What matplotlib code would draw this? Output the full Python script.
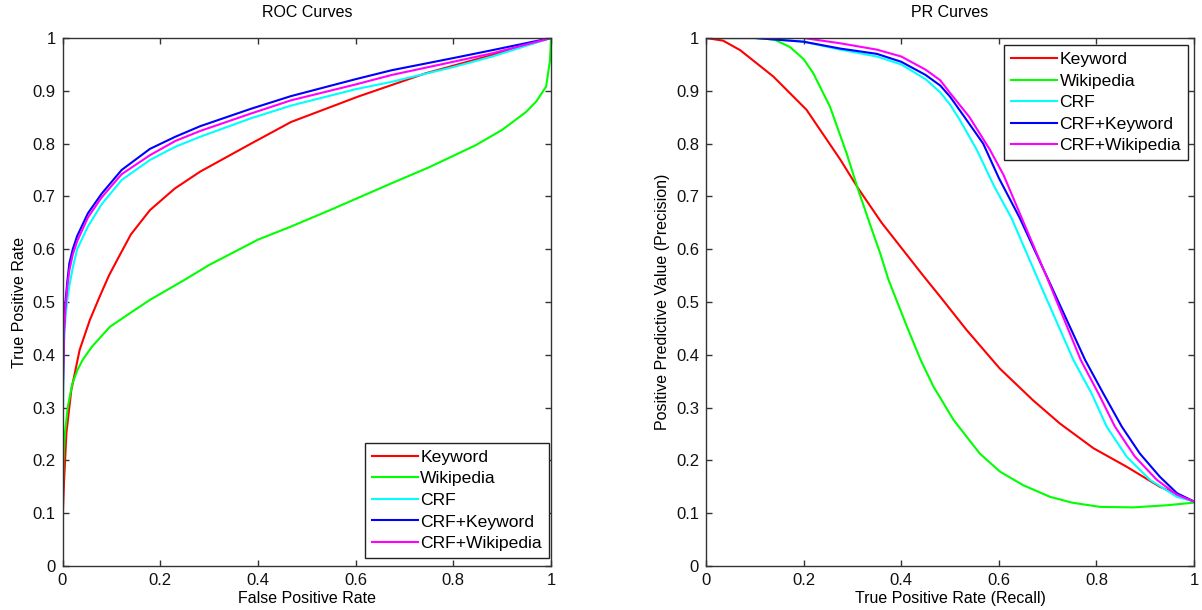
import numpy as np
import matplotlib
matplotlib.use("Agg")
import matplotlib.pyplot as plt

plt.rcParams['font.family'] = ['Liberation Sans', 'DejaVu Sans']

names = ["Keyword", "Wikipedia", "CRF", "CRF+Keyword", "CRF+Wikipedia"]
colors = ["#ff0000", "#00ff00", "#00ffff", "#0000ff", "#ff00ff"]

tick_vals = [0, 0.1, 0.2, 0.3, 0.4, 0.5, 0.6, 0.7, 0.8, 0.9, 1.0]
tick_txt = ["0", "0.1", "0.2", "0.3", "0.4", "0.5", "0.6", "0.7", "0.8", "0.9", "1"]
xtick_vals = [0, 0.2, 0.4, 0.6, 0.8, 1.0]
xtick_txt = ["0", "0.2", "0.4", "0.6", "0.8", "1"]

# ROC curves (fpr, tpr)
roc_kw_x = [0, 0.003, 0.008, 0.018, 0.035, 0.056, 0.076, 0.095, 0.115, 0.14, 0.179, 0.23, 0.282, 0.386, 0.468, 0.605, 0.743, 0.88, 1.0]
roc_kw_y = [0.08, 0.157, 0.252, 0.333, 0.409, 0.466, 0.51, 0.55, 0.585, 0.628, 0.674, 0.715, 0.747, 0.80, 0.841, 0.889, 0.933, 0.968, 1.0]

roc_wk_x = [0, 0.002, 0.005, 0.011, 0.02, 0.03, 0.041, 0.06, 0.097, 0.14, 0.179, 0.25, 0.3, 0.4, 0.468, 0.55, 0.674, 0.75, 0.846, 0.9, 0.949, 0.97, 0.99, 0.998, 1.0]
roc_wk_y = [0.1, 0.2, 0.252, 0.302, 0.345, 0.37, 0.39, 0.415, 0.453, 0.48, 0.504, 0.542, 0.57, 0.618, 0.643, 0.675, 0.725, 0.755, 0.797, 0.826, 0.86, 0.88, 0.908, 0.958, 1.0]

roc_x = [0, 0.001, 0.003, 0.006, 0.01, 0.014, 0.021, 0.03, 0.052, 0.08, 0.121, 0.179, 0.231, 0.282, 0.386, 0.468, 0.6, 0.674, 0.8, 0.88, 1.0]
roc_crf_y = [0.15, 0.3, 0.42, 0.47, 0.505, 0.53, 0.565, 0.6, 0.643, 0.685, 0.731, 0.769, 0.794, 0.813, 0.848, 0.872, 0.903, 0.917, 0.945, 0.965, 1.0]
roc_ck_y = [0.2, 0.35, 0.45, 0.5, 0.54, 0.573, 0.6, 0.625, 0.668, 0.705, 0.75, 0.79, 0.813, 0.833, 0.866, 0.89, 0.922, 0.939, 0.962, 0.977, 1.0]
roc_cw_y = [0.2, 0.34, 0.44, 0.49, 0.53, 0.56, 0.59, 0.615, 0.66, 0.698, 0.742, 0.778, 0.805, 0.824, 0.857, 0.882, 0.912, 0.93, 0.955, 0.971, 1.0]

# PR curves (recall, precision)
pr_kw_x = [0, 0.035, 0.07, 0.138, 0.206, 0.275, 0.312, 0.36, 0.411, 0.445, 0.48, 0.534, 0.602, 0.67, 0.725, 0.794, 0.862, 0.93, 1.0]
pr_kw_y = [1, 0.995, 0.977, 0.927, 0.864, 0.77, 0.715, 0.65, 0.59, 0.55, 0.51, 0.447, 0.374, 0.314, 0.27, 0.223, 0.188, 0.15, 0.122]

pr_wk_x = [0, 0.104, 0.14, 0.172, 0.2, 0.22, 0.254, 0.288, 0.312, 0.335, 0.357, 0.374, 0.411, 0.44, 0.466, 0.507, 0.561, 0.602, 0.65, 0.705, 0.75, 0.807, 0.875, 0.944, 1.0]
pr_wk_y = [1, 1.0, 0.997, 0.983, 0.96, 0.933, 0.87, 0.782, 0.712, 0.65, 0.592, 0.542, 0.455, 0.39, 0.34, 0.277, 0.213, 0.179, 0.153, 0.131, 0.12, 0.112, 0.111, 0.115, 0.12]

pr_crf_x = [0, 0.1, 0.2, 0.275, 0.35, 0.4, 0.45, 0.48, 0.5, 0.52, 0.555, 0.59, 0.626, 0.684, 0.753, 0.79, 0.821, 0.862, 0.91, 0.965, 1.0]
pr_crf_y = [1, 1.0, 0.993, 0.978, 0.965, 0.95, 0.922, 0.897, 0.874, 0.845, 0.788, 0.72, 0.659, 0.535, 0.39, 0.327, 0.264, 0.207, 0.163, 0.131, 0.122]

pr_ck_x = [0, 0.1, 0.2, 0.275, 0.35, 0.4, 0.45, 0.48, 0.5, 0.53, 0.568, 0.6, 0.643, 0.70, 0.777, 0.814, 0.852, 0.889, 0.93, 0.965, 1.0]
pr_ck_y = [1, 1.0, 0.993, 0.98, 0.97, 0.955, 0.93, 0.91, 0.889, 0.85, 0.80, 0.735, 0.659, 0.545, 0.39, 0.327, 0.264, 0.213, 0.169, 0.138, 0.122]

pr_cw_x = [0, 0.2, 0.275, 0.35, 0.4, 0.45, 0.48, 0.5, 0.54, 0.582, 0.61, 0.647, 0.698, 0.768, 0.804, 0.838, 0.879, 0.924, 0.965, 1.0]
pr_cw_y = [1, 1.0, 0.99, 0.978, 0.965, 0.94, 0.92, 0.896, 0.85, 0.788, 0.74, 0.659, 0.548, 0.39, 0.327, 0.264, 0.207, 0.163, 0.135, 0.122]

roc = [(roc_kw_x, roc_kw_y), (roc_wk_x, roc_wk_y), (roc_x, roc_crf_y), (roc_x, roc_ck_y), (roc_x, roc_cw_y)]
pr = [(pr_kw_x, pr_kw_y), (pr_wk_x, pr_wk_y), (pr_crf_x, pr_crf_y), (pr_ck_x, pr_ck_y), (pr_cw_x, pr_cw_y)]

fig = plt.figure(figsize=(12.02, 6.10), dpi=100)
ax1 = fig.add_axes([62.5 / 1202, 44 / 610, 488.5 / 1202, 528 / 610])
ax2 = fig.add_axes([706 / 1202, 44 / 610, 488 / 1202, 528 / 610])


def style(ax, title, xlabel, ylabel):
    ax.set_xlim(0, 1)
    ax.set_ylim(0, 1)
    ax.set_xticks(xtick_vals)
    ax.set_xticklabels(xtick_txt)
    ax.set_yticks(tick_vals)
    ax.set_yticklabels(tick_txt)
    ax.tick_params(direction="in", top=True, right=True, length=4.5, width=1,
                   color="#333333", labelsize=12, labelcolor="#111111", pad=5)
    for s in ax.spines.values():
        s.set_color("#333333")
        s.set_linewidth(1)
    ax.set_title(title, fontsize=11.5, pad=15)
    ax.set_xlabel(xlabel, fontsize=11.5, labelpad=2)
    ax.set_ylabel(ylabel, fontsize=11.5, labelpad=4)


for (x, y), c, n in zip(roc, colors, names):
    ax1.plot(x, y, color=c, lw=1.5, label=n)
for (x, y), c, n in zip(pr, colors, names):
    ax2.plot(x, y, color=c, lw=1.5, label=n)

style(ax1, "ROC Curves", "False Positive Rate", "True Positive Rate")
style(ax2, "PR Curves", "True Positive Rate (Recall)", "Positive Predictive Value (Precision)")

leg_kw = dict(fontsize=12.6, fancybox=False, framealpha=1, edgecolor="#222222",
              handlelength=2.6, handletextpad=0.15, labelspacing=0.36, borderpad=0.4,
              borderaxespad=0)
l1 = ax1.legend(loc="lower right", bbox_to_anchor=(0.996, 0.015), **leg_kw)
l2 = ax2.legend(loc="upper right", bbox_to_anchor=(0.988, 0.987), **leg_kw)
for l in (l1, l2):
    l.get_frame().set_linewidth(1)

fig.savefig("out.png", dpi=100)
